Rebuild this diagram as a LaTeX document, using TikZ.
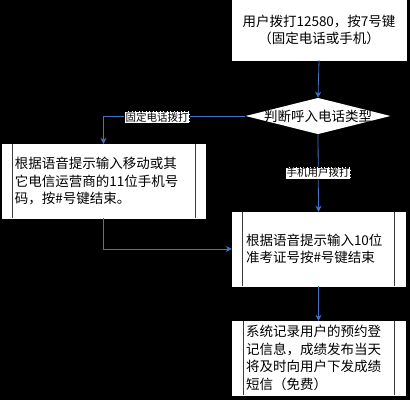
\documentclass[tikz,border=0pt]{standalone}
\usepackage{fontspec}
\newfontfamily\cjk{Noto Sans CJK SC}
\usetikzlibrary{shapes.geometric,arrows.meta}
\definecolor{lineblue}{RGB}{68,114,196}
\definecolor{innergray}{RGB}{60,60,60}
\tikzset{
  box/.style={rectangle,fill=white,draw=white,line width=0.4pt,inner ysep=0pt,
    font=\cjk\fontsize{13.5}{17.5}\selectfont},
  procbox/.style={box,align=left,inner xsep=14pt,text width=145pt,minimum width=173pt,minimum height=74pt},
  decision/.style={diamond,fill=white,aspect=4,inner sep=-1.3pt,font=\cjk\fontsize{13.5}{17}\selectfont},
  lab/.style={fill=white,draw=black,densely dotted,inner sep=1pt,font=\cjk\fontsize{10.5}{12}\selectfont},
  conn/.style={draw=lineblue,line width=0.8pt,-{Stealth[length=6pt,width=6pt]}},
  inner/.style={draw=innergray,line width=1.2pt}
}
\begin{document}
\begin{tikzpicture}[x=1pt,y=-1pt]
\fill[black] (0,0) rectangle (410,400);
\useasboundingbox (0,0) rectangle (410,400);
% top box
\node[box,align=center,minimum width=174pt,minimum height=60pt] (start) at (319,30)
  {用户拨打12580，按7号键\\（固定电话或手机）};
% decision
\node[decision] (dec) at (318,116) {判断呼入电话类型};
% left box
\node[box,align=left,inner xsep=13pt,text width=177pt,minimum width=203pt,minimum height=74pt] (left) at (103.5,181)
  {根据语音提示输入移动或其\\它电信运营商的11位手机号\\码，按\#号键结束。};
\draw[inner] ([xshift=11pt]left.north west) -- ([xshift=11pt]left.south west);
\draw[inner] ([xshift=-10pt]left.north east) -- ([xshift=-10pt]left.south east);
% middle box
\node[procbox] (mid) at (318.5,249) {根据语音提示输入10位\\准考证号按\#号键结束};
\draw[inner] ([xshift=11pt]mid.north west) -- ([xshift=11pt]mid.south west);
\draw[inner] ([xshift=-11pt]mid.north east) -- ([xshift=-11pt]mid.south east);
% bottom box
\node[procbox] (bot) at (318.5,358) {系统记录用户的预约登\\记信息，成绩发布当天\\将及时向用户下发成绩\\短信（免费）};
\draw[inner] ([xshift=12pt]bot.north west) -- ([xshift=12pt]bot.south west);
\draw[inner] ([xshift=-11pt]bot.north east) -- ([xshift=-11pt]bot.south east);
% connectors
\draw[conn] (start.south) -- (dec.north);
\draw[conn] (dec.west) -| (left.north);
\draw[conn] (dec.south) -- (mid.north);
\draw[conn] (left.south) |- (mid.west);
\draw[conn] (mid.south) -- (bot.north);
% labels
\node[lab] (l1) at (157,117) {固定电话拨打};
\node[lab] (l2) at (318,173) {手机用户拨打};
\end{tikzpicture}
\end{document}
